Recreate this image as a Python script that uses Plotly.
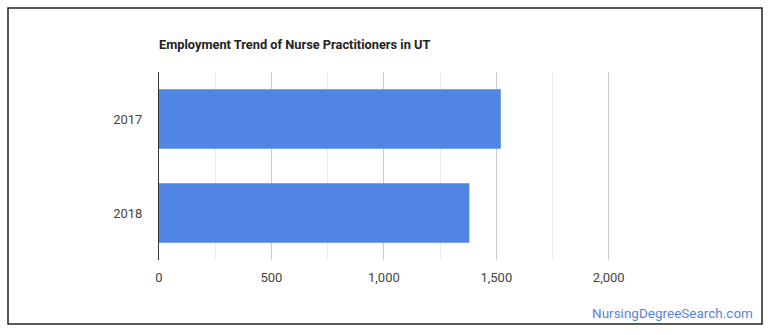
import plotly.graph_objects as go

years = ["2017", "2018"]
employment = [1520, 1380]
tick_values = [0, 500, 1000, 1500, 2000]
tick_labels = ["0", "500", "1,000", "1,500", "2,000"]

W, H = 770, 335
ML, MR, MT, MB = 159, 159, 72, 75
PW, PH = W - ML - MR, H - MT - MB


def px(x):
    return (x - ML) / PW


def py(y):
    return (H - MB - y) / PH


fig = go.Figure(
    go.Bar(
        x=employment,
        y=years,
        orientation="h",
        marker=dict(color="#5185e3", line=dict(width=0)),
        hoverinfo="x+y",
    )
)

fig.update_layout(
    width=W,
    height=H,
    margin=dict(l=ML, r=MR, t=MT, b=MB, pad=0),
    paper_bgcolor="white",
    plot_bgcolor="white",
    bargap=0.365,
    showlegend=False,
    font=dict(family="Roboto", size=13, color="#444"),
    title=dict(
        text="<b>Employment Trend of Nurse Practitioners in UT</b>",
        font=dict(family="Roboto", size=12.8, color="#222"),
        x=px(159),
        xref="paper",
        xanchor="left",
        y=1 - 45 / H,
        yref="container",
        yanchor="middle",
    ),
    xaxis=dict(
        range=[0, 2010],
        tickvals=tick_values,
        ticktext=tick_labels,
        showgrid=True,
        gridcolor="#cccccc",
        gridwidth=1,
        zeroline=False,
        showline=False,
        ticks="",
        ticklabelstandoff=8,
        tickfont=dict(size=13, color="#444"),
        minor=dict(dtick=250, tick0=0, showgrid=True, gridcolor="#ebebeb", gridwidth=1),
        fixedrange=True,
    ),
    yaxis=dict(
        autorange="reversed",
        showline=True,
        linecolor="#333",
        linewidth=1,
        showgrid=False,
        zeroline=False,
        ticks="",
        ticklabelstandoff=13,
        tickfont=dict(size=13, color="#444"),
        fixedrange=True,
    ),
    shapes=[
        dict(
            type="rect",
            xref="paper",
            yref="paper",
            x0=px(8),
            x1=px(762),
            y0=py(324),
            y1=py(8),
            line=dict(color="#222", width=1.5),
            fillcolor="rgba(0,0,0,0)",
            layer="below",
        )
    ],
    annotations=[
        dict(
            text="NursingDegreeSearch.com",
            xref="paper",
            yref="paper",
            x=px(755),
            y=py(312.5),
            xanchor="right",
            yanchor="middle",
            showarrow=False,
            font=dict(family="Roboto", size=13.5, color="#5b84d6"),
        )
    ],
)

fig.write_html("out.html")
